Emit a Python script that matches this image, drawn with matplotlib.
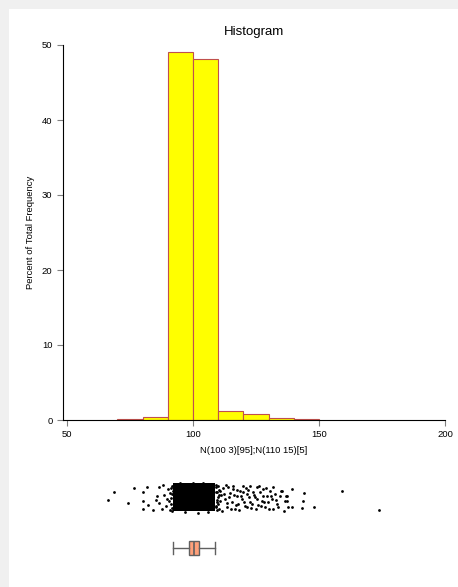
import matplotlib
matplotlib.use("Agg")
import matplotlib.pyplot as plt
from matplotlib.patches import Rectangle

plt.rcParams['font.family'] = ['Liberation Sans', 'DejaVu Sans']

# histogram (percent of total frequency per 10-unit bin)
bin_left = [70, 80, 90, 100, 110, 120, 130, 140]
bin_pct = [0.1, 0.45, 49.07, 48.1, 1.2, 0.8, 0.3, 0.1]
bin_width = 10

# dot plot: scattered points outside the dense core (value, vertical jitter)
dot_vals = [66.2, 68.7, 74.2, 76.5, 80.3, 80.0, 80.3, 81.9, 82.3, 84.2, 85.3, 86.6,
            85.8, 86.6, 88.2, 88.5, 87.6, 89.6, 90.2, 89.3, 90.8, 91.0, 90.5,
            110.7, 112.0, 111.3, 112.7, 113.3, 114.0, 114.6, 115.3, 116.0, 116.6,
            117.3, 117.9, 118.6, 119.3, 119.9, 120.6, 121.3, 121.9, 122.6, 123.2,
            123.9, 124.6, 125.2, 125.9, 126.5, 127.2, 127.9, 128.5, 129.2, 129.8,
            130.5, 131.2, 131.8, 132.5, 133.2, 135.1, 136.5, 137.1, 137.8,
            109.3, 109.6, 110.0, 110.4, 109.1, 110.9, 111.7, 112.3, 113.0, 113.6,
            114.4, 114.9, 115.7, 116.2, 117.0, 117.5, 118.3, 118.9, 119.7, 120.2,
            121.0, 121.5, 122.3, 122.8, 123.6, 124.2, 125.0, 125.5, 126.3, 126.8,
            127.6, 128.1, 128.9, 130.2, 130.8, 131.6, 132.9, 133.8, 134.5,
            135.2, 139.3, 137.4, 144.0, 137.2, 143.8, 136.1, 139.2, 143.4, 148.0,
            159.0, 173.8,
            91.3, 91.5, 91.2, 91.6, 91.4, 91.8, 91.7, 92.0,
            109.2, 109.5, 109.4, 109.0, 109.8, 109.7, 110.2, 110.1, 109.3, 110.5,
            95.0, 100.0, 104.0, 97.0, 102.0, 106.0]
dot_jit = [-2, 6, -5, 10, 6, -3, -11, 11, -7, -12, -2, 11,
           2, -5, 13, 3, -11, -1, 9, -8, 5, -12, -3,
           7, 9.3, 2.7, -1.3, -9.7, 10.3, 4.7, -4, 8.7, -11.3,
           2, -6.3, 7, -1.3, 12, -8, 3.7, 8, -4.7, -10.7,
           6, 0.3, 10.3, -7.3, 5.3, -3, 8.7, -9.7, 2, -4.7,
           7, -1.3, -11.3, 3.7, -6.3, 7, -3, 2, -9.7,
           5.3, -4.7, 12, -11.3, -8, -3, -13, 3.7, 12.7, -5.3,
           0.3, -11.3, 12, 2.7, -7.3, 8, -12, 1.3, 5.3, -4,
           9.3, -9.7, 0.3, 12, -6.3, 2.7, -11.3, -1.3, 12, -8.7,
           1.3, -4.7, 9.3, -11.3, 1.3, 10.3, -2, -9.7, 1.3,
           7, 8.7, 1.3, 4.7, -3.7, -3, -13, -9, -10.3, -9,
           7, -12.3,
           10, 4, -6, -10, 0, 12, -13, 7,
           11, 6, -2, -9, 1, -12, 8, -6, 13, 3,
           14.5, 15, 14.5, -14.5, -15, -14.5]
core_range = (92.0, 108.8)   # solid black region of overlapping dots

# box plot summary
box_stats = dict(whislo=92.1, q1=98.3, med=100.5, q3=102.5, whishi=108.9)

W, H = 458, 587
fig = plt.figure(figsize=(W / 100, H / 100), dpi=100, facecolor='#f0f0f0')
fig.patches.append(Rectangle((9 / W, 0), 1, 1 - 9 / H, transform=fig.transFigure,
                             facecolor='white', edgecolor='none', zorder=-10))

x0, x1 = 63, 445
xlo = 50 - 4 / 2.52
ax = fig.add_axes([x0 / W, 1 - 420 / H, (x1 - x0) / W, 375 / H])
ax.set_facecolor('none')
ax.bar(bin_left, bin_pct, width=bin_width, align='edge', color='#ffff00',
       edgecolor='#c0504d', linewidth=0.8)
ax.set_xlim(xlo, 200)
ax.set_ylim(0, 50)
ax.set_xticks([50, 100, 150, 200])
ax.set_yticks([0, 10, 20, 30, 40, 50])
for s in ['top', 'right']:
    ax.spines[s].set_visible(False)
ax.tick_params(labelsize=6.8, length=4, width=0.8, color='#808080')
ax.set_title('Histogram', fontsize=9.5, pad=7)
ax.set_xlabel('N(100 3)[95];N(110 15)[5]', fontsize=6.8, labelpad=5)
ax.set_ylabel('Percent of Total Frequency', fontsize=6.8, labelpad=5)

# dot plot + box plot
ax2 = fig.add_axes([x0 / W, 1 - 570 / H, (x1 - x0) / W, 100 / H])
ax2.set_facecolor('none')
ax2.set_xlim(xlo, 200)
ax2.set_ylim(-22, 78)   # pixel-like units: box at 0, dots centred at 50.5
dc = 50.5
ax2.fill_between(core_range, dc - 14, dc + 14, color='black', linewidth=0)
ax2.scatter(dot_vals, [dc + j for j in dot_jit], s=4, color='black', linewidths=0)
ax2.bxp([box_stats], positions=[0], widths=13.5, showfliers=False, vert=False,
        patch_artist=True, capwidths=12,
        boxprops=dict(facecolor='#ffa07a', edgecolor='#606060', linewidth=1),
        medianprops=dict(color='#606060', linewidth=1.2),
        whiskerprops=dict(color='#606060', linewidth=1),
        capprops=dict(color='#606060', linewidth=1))
ax2.axis('off')

fig.savefig('out.png', dpi=100, facecolor=fig.get_facecolor())
